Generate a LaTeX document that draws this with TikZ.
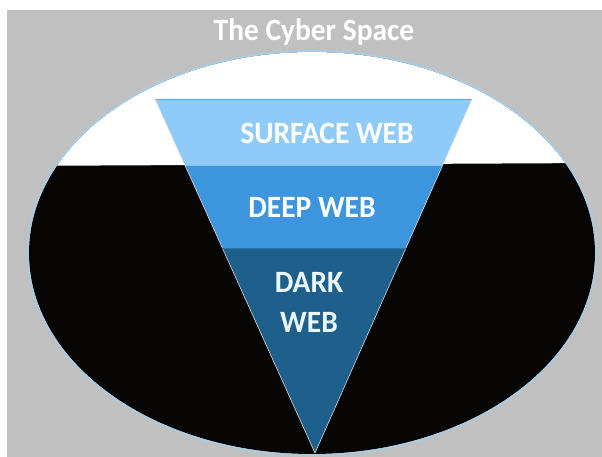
\documentclass[tikz,border=0pt]{standalone}
\usepackage{fontspec}
\setmainfont{Carlito}
\definecolor{bggray}{HTML}{C0C0C0}
\definecolor{rimblue}{HTML}{A6CDE6}
\definecolor{surfblue}{HTML}{8FCBF8}
\definecolor{deepblue}{HTML}{3D95DD}
\definecolor{darkblue}{HTML}{1E5F8C}
\definecolor{inkblack}{HTML}{070404}
\tikzset{
  lbl/.style={text=white, font=\fontsize{31}{33}\selectfont\bfseries, align=center, inner sep=0pt, xscale=0.95},
  band/.style={draw=white!70!gray, line width=0.6pt}
}
\begin{document}
\begin{tikzpicture}[x=1pt,y=-1pt]
\useasboundingbox (0,0) rectangle (602,457);
\fill[white] (0,0) rectangle (602,457);
\fill[bggray] (7,10) rectangle (602,457);
% ellipse
\coordinate (ec) at (312,253);
\fill[inkblack] (ec) ellipse [x radius=283, y radius=201];
\begin{scope}
  \clip (ec) ellipse [x radius=283, y radius=201];
  \fill[white] (0,0) -- (602,0) -- (602,163) -- (0,166) -- cycle;
\end{scope}
\draw[rimblue, line width=1.6pt] (ec) ellipse [x radius=284, y radius=202];
% triangle
\coordinate (tl) at (155,99);
\coordinate (tr) at (472,99);
\coordinate (ap) at (315,453);
\coordinate (l1) at (185.3,166);
\coordinate (r1) at (442.3,166);
\coordinate (l2) at (222.3,248);
\coordinate (r2) at (405.9,248);
\fill[surfblue] (tl) -- (tr) -- (r1) -- (l1) -- cycle;
\fill[deepblue] (l1) -- (r1) -- (r2) -- (l2) -- cycle;
\fill[darkblue] (l2) -- (r2) -- (ap) -- cycle;
\draw[gray!80, line width=0.8pt] (tl) -- (tr);
\draw[band] (tl) -- (ap) -- (tr);
\draw[darkblue!60!deepblue, line width=0.8pt] (l2) -- (r2);
% labels
\node[lbl] (title) at (314,32) {The Cyber Space};
\node[lbl] (surf) at (327,133) {SURFACE WEB};
\node[lbl] (deep) at (312,207) {DEEP WEB};
\node[lbl, text=white!92!cyan] (dark) at (309,302) {DARK\\[7pt]WEB};
\end{tikzpicture}
\end{document}
